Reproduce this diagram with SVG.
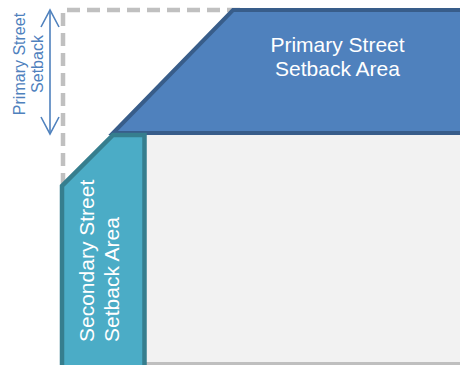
<svg xmlns="http://www.w3.org/2000/svg" width="460" height="365" viewBox="0 0 460 365">
<style>
.lbl{font-family:"Liberation Sans",Arial,sans-serif;fill:#ffffff;font-size:21px}
.dim{font-family:"Liberation Sans",Arial,sans-serif;fill:#4f81bd;font-size:16px;text-anchor:middle}
.arr{stroke:#4f81bd;stroke-width:1.6;fill:none}
</style>
<rect width="460" height="365" fill="#ffffff"/>
<g id="lot">
<rect x="145" y="135" width="320" height="227" fill="#f2f2f2"/>
<line x1="60" y1="363.5" x2="462" y2="363.5" stroke="#bfbfbf" stroke-width="3"/>
</g>
<g id="setback-line">
<polyline points="63,186 63,10 240,10" fill="none" stroke="#c0c0c0" stroke-width="4.5" stroke-dasharray="13,7"/>
</g>
<g id="primary">
<polygon points="233,10 464,10 464,133 113,133" fill="#4f81bd" stroke="#385d8a" stroke-width="4"/>
<text class="lbl" x="337.5" y="52" text-anchor="middle">Primary Street</text>
<text class="lbl" x="337.5" y="76" text-anchor="middle">Setback Area</text>
</g>
<g id="secondary">
<polygon points="113,135 144.5,135 144.5,368 62,368 62,186" fill="#4bacc6" stroke="#367e8e" stroke-width="4.5"/>
<text class="lbl" transform="translate(94,342) rotate(-90)">Secondary Street</text>
<text class="lbl" transform="translate(119,342) rotate(-90)">Setback Area</text>
</g>
<g id="connectors">
<line class="arr" x1="50" y1="10" x2="50" y2="134"/>
<polyline class="arr" points="41,27 50,10 59,27"/>
<polyline class="arr" points="41,117 50,134 59,117"/>
</g>
<g id="dim-label">
<text class="dim" transform="translate(24.5,64) rotate(-90)">Primary Street</text>
<text class="dim" transform="translate(43,64) rotate(-90)">Setback</text>
</g>
</svg>
